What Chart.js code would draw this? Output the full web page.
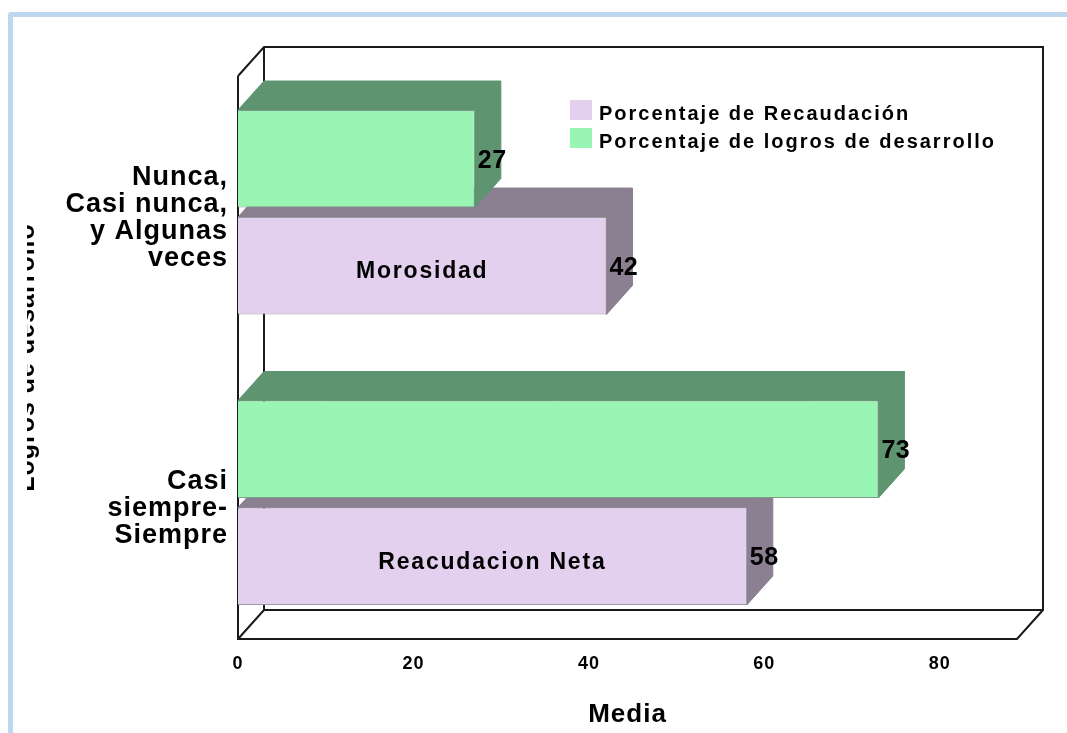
<!DOCTYPE html>
<html>
<head>
<meta charset="utf-8">
<script src="https://cdn.jsdelivr.net/npm/chart.js@4"></script>
<style>
  html, body { margin: 0; padding: 0; background: #fff; overflow: hidden; }
  #panel { position: absolute; left: 8px; top: 12px; width: 1200px; height: 900px;
           border: 5px solid #bdd7ee; border-radius: 3px; box-sizing: border-box; }
  #chart { position: absolute; left: 0; top: 0; }
</style>
</head>
<body>
<div id="panel"></div>
<canvas id="chart" width="1067" height="733"></canvas>
<script>
const categories = [["Nunca,", "Casi nunca,", "y Algunas", "veces"], ["Casi", "siempre-", "Siempre"]];
const logrosValues = [27, 73];
const recaudacionValues = [42, 58];
const barNames = ["Morosidad", "Reacudacion Neta"];
const legendLabels = ["Porcentaje de Recaudación", "Porcentaje de logros de desarrollo"];
const xTitle = "Media";
const yTitle = "Logros de desarrollo";
const xMax = 88.8;

const GREEN = "#98f5b4", GREEN_DARK = "#5e9470";
const PURPLE = "#e2d0ee", PURPLE_DARK = "#8b7f92";
const DX = 26, DY = 29;
const FONT = '"Liberation Sans", Arial, sans-serif';

function poly(ctx, pts, fill, stroke) {
  ctx.beginPath();
  pts.forEach((p, i) => i ? ctx.lineTo(p[0], p[1]) : ctx.moveTo(p[0], p[1]));
  ctx.closePath();
  if (fill) { ctx.fillStyle = fill; ctx.fill(); }
  if (stroke) { ctx.strokeStyle = stroke; ctx.lineWidth = 1; ctx.stroke(); }
}

// 3D walls, bar depth faces, labels
const fake3d = {
  id: "fake3d",
  beforeUpdate(chart) { chart.ctx.letterSpacing = "1px"; },
  beforeDatasetsDraw(chart) {
    const ctx = chart.ctx, a = chart.chartArea;
    const l = a.left, r = a.right, t = a.top + 9, b = a.bottom - 9;
    ctx.save();
    ctx.strokeStyle = "#1a1a1a";
    ctx.lineWidth = 2;
    ctx.beginPath();
    ctx.moveTo(l, t); ctx.lineTo(l + DX, t - DY); ctx.lineTo(r + DX, t - DY);
    ctx.lineTo(r + DX, b - DY); ctx.lineTo(r, b); ctx.lineTo(l, b); ctx.lineTo(l, t);
    ctx.moveTo(l + DX, t - DY); ctx.lineTo(l + DX, b - DY); ctx.lineTo(r + DX, b - DY);
    ctx.moveTo(l + DX, b - DY); ctx.lineTo(l, b);
    ctx.stroke();

    [[1, PURPLE_DARK], [0, GREEN_DARK]].forEach(([ds, color]) => {
      chart.getDatasetMeta(ds).data.forEach(bar => {
        const x0 = bar.base, x1 = bar.x, y0 = bar.y - bar.height / 2, y1 = bar.y + bar.height / 2;
        poly(ctx, [[x0, y0], [x0 + DX, y0 - DY], [x1 + DX, y0 - DY], [x1, y0]], color, color);
        poly(ctx, [[x1, y0], [x1 + DX, y0 - DY], [x1 + DX, y1 - DY], [x1, y1]], color, color);
      });
    });
    ctx.restore();
  },
  afterDatasetsDraw(chart) {
    const ctx = chart.ctx;
    ctx.save();
    ctx.fillStyle = "#000";
    ctx.textBaseline = "middle";
    chart.data.datasets.forEach((ds, i) => {
      chart.getDatasetMeta(i).data.forEach((bar, j) => {
        ctx.font = "bold 25px " + FONT;
        ctx.letterSpacing = "0.5px";
        ctx.textAlign = "left";
        ctx.fillText(ds.data[j], bar.x + 3, bar.y + 2);
        if (i === 1) {
          ctx.font = "bold 23px " + FONT;
          ctx.letterSpacing = "1.8px";
          ctx.textAlign = "center";
          ctx.fillText(barNames[j], (bar.base + bar.x) / 2, bar.y + 6);
        }
      });
    });
    // legend keeps the reference order, purple first
    const keys = [PURPLE, GREEN];
    ctx.font = "bold 20px " + FONT;
    ctx.letterSpacing = "2px";
    ctx.textAlign = "left";
    legendLabels.forEach((txt, i) => {
      const y = 100 + i * 28;
      ctx.fillStyle = keys[i];
      ctx.fillRect(570, y, 22, 20);
      ctx.fillStyle = "#000";
      ctx.fillText(txt, 599, y + 14);
    });
    ctx.restore();
  },
  afterDraw(chart) {
    // the y title is cut off along its top edge in the original
    const ctx = chart.ctx;
    ctx.save();
    ctx.fillStyle = "#fff";
    ctx.fillRect(13, 200, 14, 320);
    ctx.restore();
  }
};

new Chart(document.getElementById("chart"), {
  type: "bar",
  data: {
    labels: categories,
    datasets: [
      { label: legendLabels[1], data: logrosValues, backgroundColor: GREEN, borderColor: "#7d9c88", borderWidth: 1 },
      { label: legendLabels[0], data: recaudacionValues, backgroundColor: PURPLE, borderColor: "#9a9a9f", borderWidth: 1 }
    ]
  },
  plugins: [fake3d],
  options: {
    indexAxis: "y",
    responsive: false,
    animation: false,
    categoryPercentage: 0.737,
    barPercentage: 0.91,
    layout: { padding: { left: 10, right: 50, top: 67, bottom: 3 } },
    plugins: { legend: { display: false }, tooltip: { enabled: false } },
    scales: {
      x: {
        min: 0,
        max: xMax,
        afterFit(s) { s.height = 82; },
        grid: { display: false, drawTicks: false },
        border: { display: false },
        ticks: { stepSize: 20, includeBounds: false, maxRotation: 0, color: "#000", padding: 5,
                 font: { family: FONT, size: 18, weight: "bold" } },
        title: { display: true, text: xTitle, color: "#000", padding: 0,
                 font: { family: FONT, size: 26, weight: "bold" } }
      },
      y: {
        afterFit(s) { s.width = 228; },
        grid: { display: false, drawTicks: false },
        border: { display: false },
        ticks: { color: "#000", padding: 10, labelOffset: 6,
                 font: { family: FONT, size: 27, weight: "bold", lineHeight: 1 } },
        title: { display: true, text: yTitle, color: "#000", padding: { top: 2, bottom: 0 },
                 font: { family: FONT, size: 25, weight: "bold" } }
      }
    }
  }
});
</script>
</body>
</html>
